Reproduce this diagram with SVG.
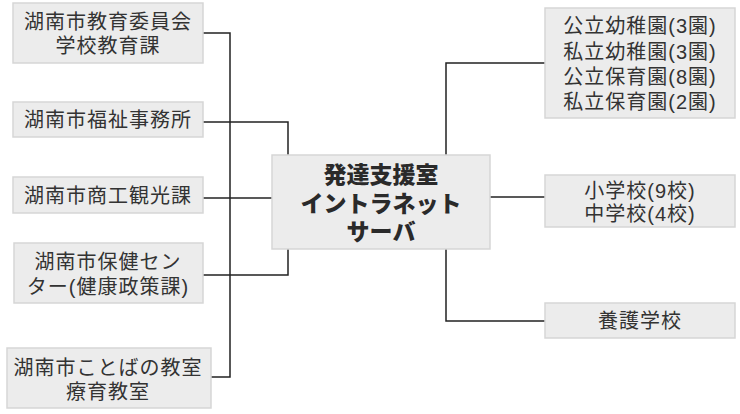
<svg xmlns="http://www.w3.org/2000/svg" width="740" height="414" viewBox="0 0 740 414">
<style>
.box{fill:#ececec;stroke:#d6d6d6;stroke-width:1.5}
.t{font-family:"Liberation Sans","Noto Sans CJK JP","Noto Sans CJK SC",sans-serif;font-size:20px;fill:#333;text-anchor:middle;dominant-baseline:central;letter-spacing:1px}
.c{font-family:"Liberation Sans","Noto Sans CJK JP","Noto Sans CJK SC",sans-serif;font-size:23px;font-weight:900;fill:#2a2a2a;text-anchor:middle;dominant-baseline:central}
.ln{fill:none;stroke:#222;stroke-width:1.5}
</style>
<rect width="740" height="414" fill="#fff"/>
<g id="connectors">
<polyline class="ln" points="203,33 230,33 230,377 211,377"/>
<polyline class="ln" points="203,122 288,122 288,155"/>
<line class="ln" x1="203" y1="198" x2="272" y2="198"/>
<polyline class="ln" points="203,275 288,275 288,249"/>
<polyline class="ln" points="545,63 446,63 446,155"/>
<line class="ln" x1="490" y1="197" x2="545" y2="197"/>
<polyline class="ln" points="446,249 446,321 545,321"/>
</g>
<g id="n1"><rect class="box" x="13" y="3" width="190" height="60"/>
<text class="t" x="108" y="22">湖南市教育委員会</text><text class="t" x="108" y="46">学校教育課</text></g>
<g id="n2"><rect class="box" x="13" y="102" width="190" height="35"/>
<text class="t" x="108" y="120">湖南市福祉事務所</text></g>
<g id="n3"><rect class="box" x="13" y="177" width="190" height="36"/>
<text class="t" x="108" y="196">湖南市商工観光課</text></g>
<g id="n4"><rect class="box" x="14" y="243" width="189" height="60"/>
<text class="t" x="108" y="262">湖南市保健セン</text><text class="t" x="108" y="287">ター(健康政策課)</text></g>
<g id="n5"><rect class="box" x="7" y="348" width="204" height="60"/>
<text class="t" x="108" y="368">湖南市ことばの教室</text><text class="t" x="108" y="392">療育教室</text></g>
<g id="center"><rect class="box" x="272" y="155" width="218" height="94"/>
<text class="c" x="381" y="175">発達支援室</text><text class="c" x="381" y="204">イントラネット</text><text class="c" x="381" y="232">サーバ</text></g>
<g id="r1"><rect class="box" x="545" y="8" width="190" height="110"/>
<text class="t" x="640" y="26">公立幼稚園(3園)</text><text class="t" x="640" y="52">私立幼稚園(3園)</text><text class="t" x="640" y="77">公立保育園(8園)</text><text class="t" x="640" y="102">私立保育園(2園)</text></g>
<g id="r2"><rect class="box" x="545" y="175" width="190" height="52"/>
<text class="t" x="640" y="191">小学校(9校)</text><text class="t" x="640" y="214">中学校(4校)</text></g>
<g id="r3"><rect class="box" x="545" y="303" width="190" height="35"/>
<text class="t" x="640" y="321">養護学校</text></g>
</svg>
